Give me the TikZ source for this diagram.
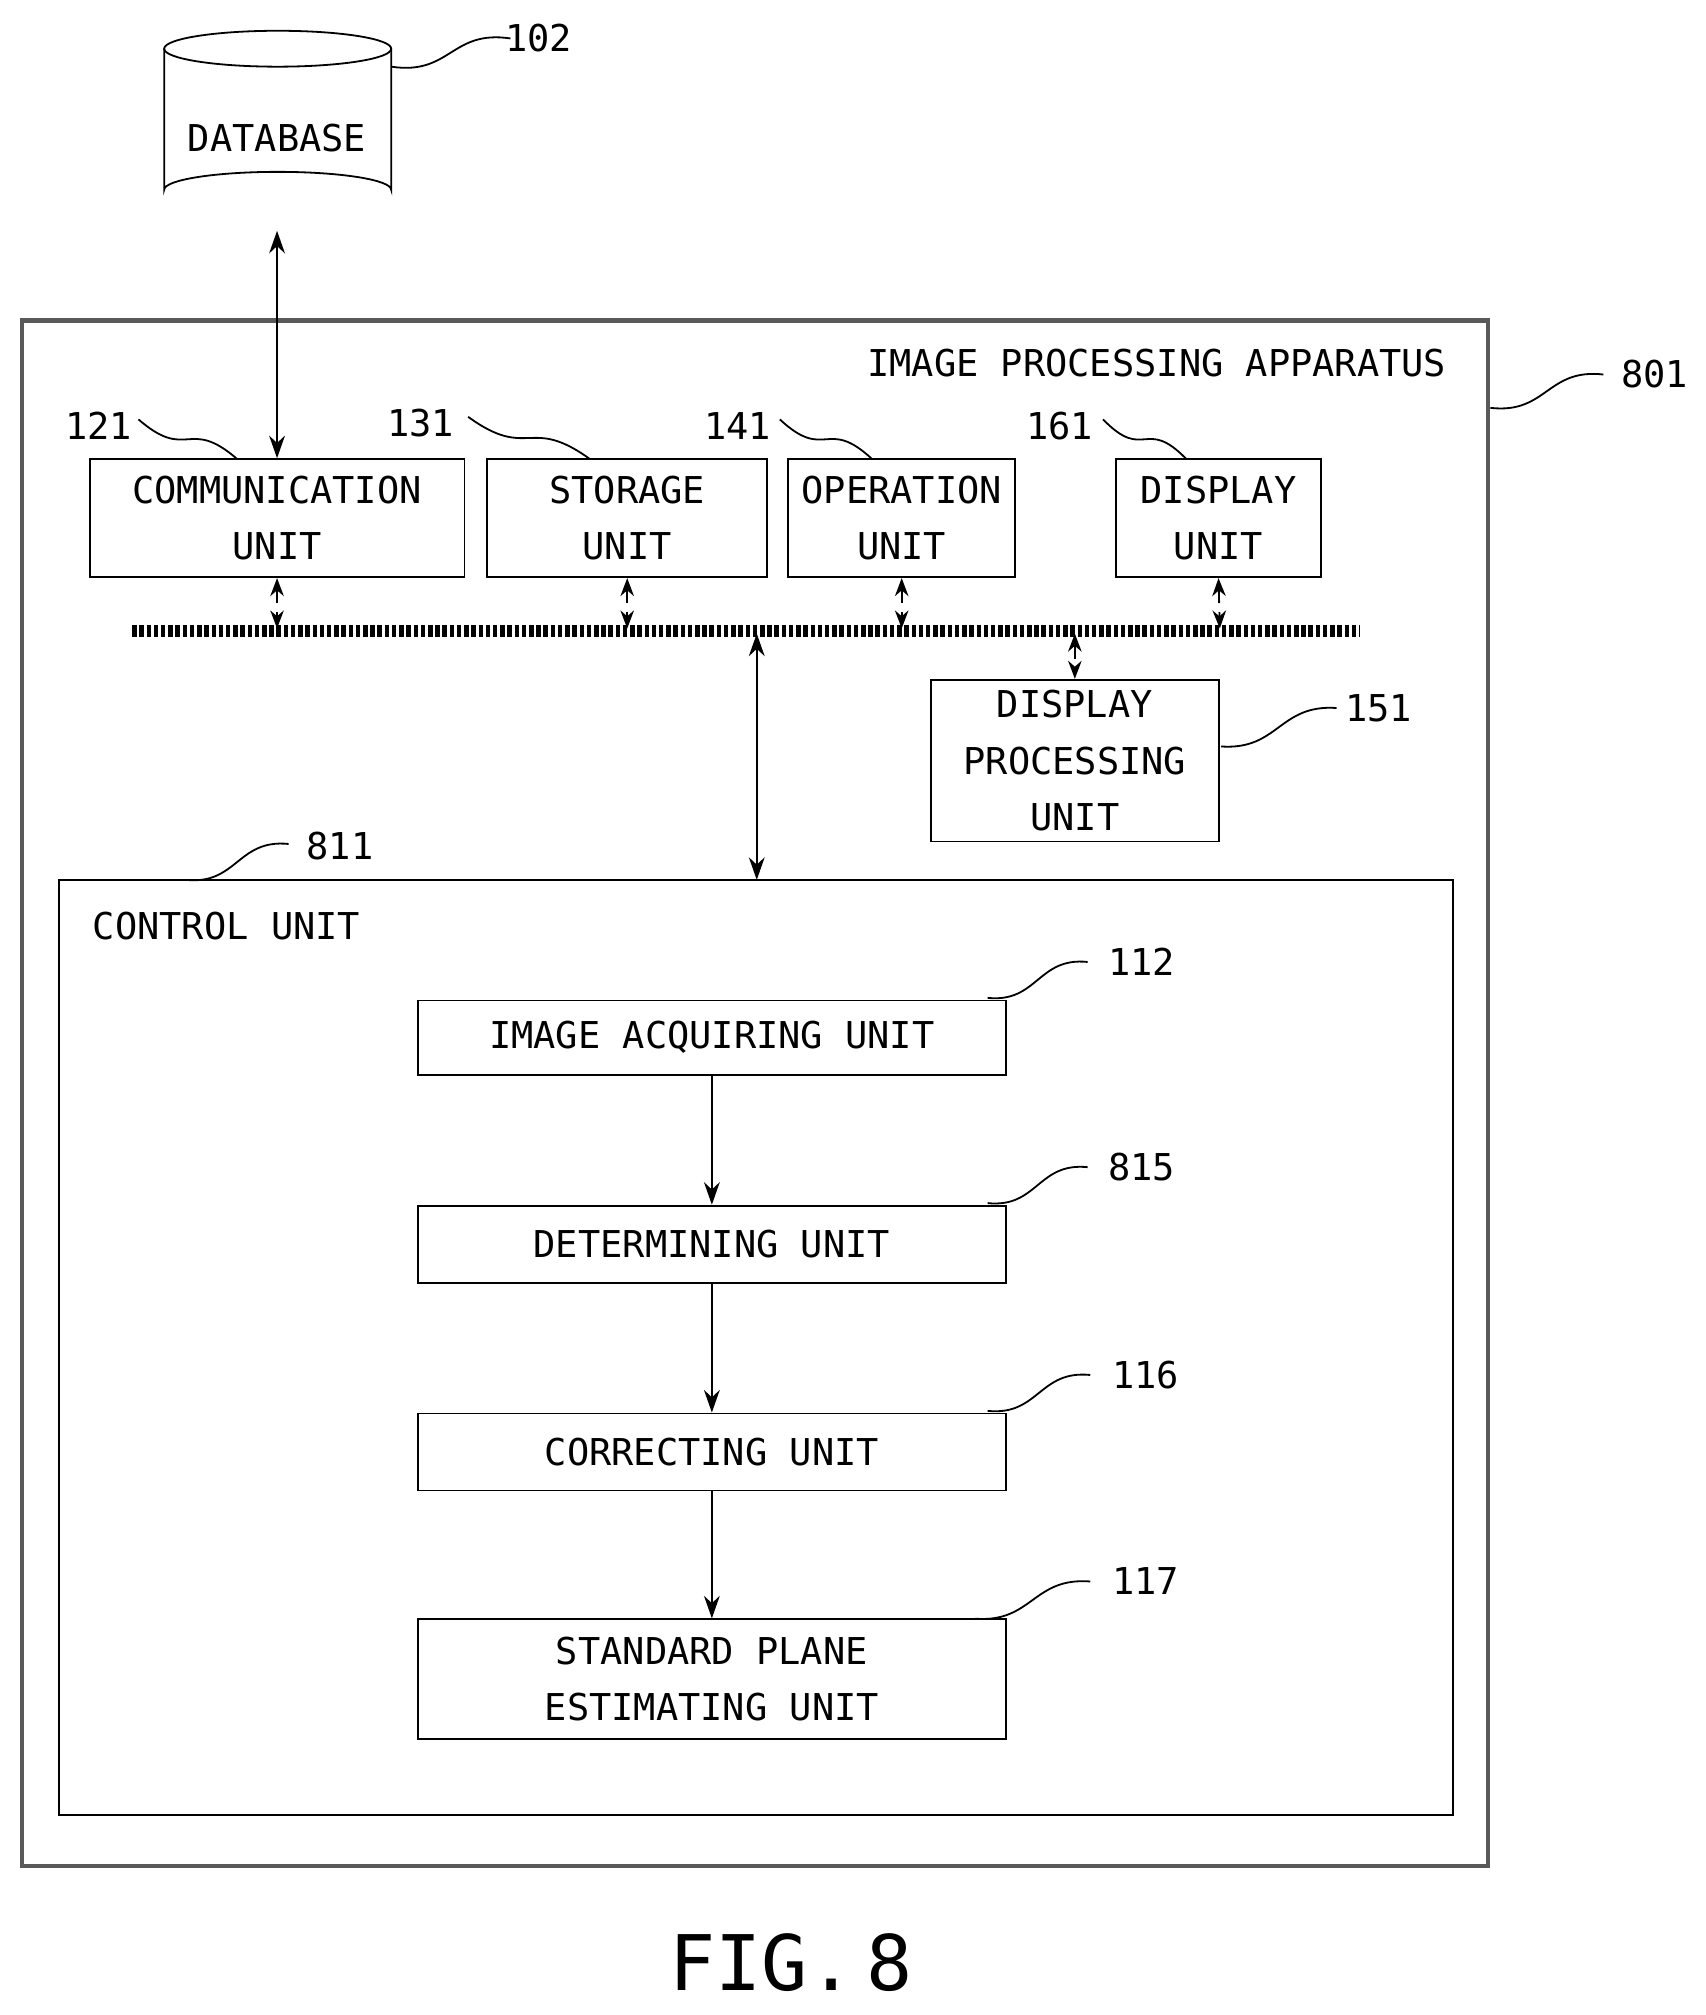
\documentclass[tikz,border=0pt]{standalone}
\usepackage{fontspec}
\setmainfont{DejaVu Sans Mono}
\usetikzlibrary{calc,shapes.geometric,arrows.meta}
\begin{document}
\begin{tikzpicture}[x=0.01cm,y=-0.01cm,
  box/.style={draw,inner sep=0,align=center,font=\fontsize{8.2}{12.5}\selectfont},
  lbl/.style={font=\fontsize{8.2}{11}\selectfont},
  arr/.style={-{Stealth[length=5pt,width=3.5pt]}},
  darr/.style={{Stealth[length=4pt,width=3pt]}-{Stealth[length=4pt,width=3pt]},densely dashed},
  barr/.style={{Stealth[length=5pt,width=3.5pt]}-{Stealth[length=5pt,width=3.5pt]}}]
\useasboundingbox (0,0) rectangle (1330,1571);
\newcommand{\squig}[2]{\draw (#1) .. controls ($(#1)!0.5!(#2)+(0,18)$) and ($(#1)!0.5!(#2)+(0,-18)$) .. (#2);}
% database
\draw (128,38) -- (128,148) arc[start angle=180,end angle=360,x radius=88.5,y radius=14] -- (305,38);
\draw (216.5,38) ellipse[x radius=88.5,y radius=14];
\node[lbl] (db) at (216,108) {DATABASE};
\coordinate (dbb) at (216,180);
\node[lbl] (l102) at (420,30) {102};
\coordinate (s102a) at (305,52); \coordinate (s102b) at (398,30);
\squig{s102a}{s102b}
% outer
\draw[gray!70!black,line width=1pt] (17,250) rectangle (1160,1455);
\node[lbl,anchor=east] (ipa) at (1140,283) {IMAGE PROCESSING APPARATUS};
\node[lbl] (l801) at (1290,292) {801};
\coordinate (s801a) at (1162,318); \coordinate (s801b) at (1250,292);
\squig{s801a}{s801b}
% units
\node[box,minimum width=2.92cm,minimum height=0.92cm] (comm) at (216,404) {COMMUNICATION\\UNIT};
\node[box,minimum width=2.18cm,minimum height=0.92cm] (stor) at (489,404) {STORAGE\\UNIT};
\node[box,minimum width=1.77cm,minimum height=0.92cm] (oper) at (703,404) {OPERATION\\UNIT};
\node[box,minimum width=1.60cm,minimum height=0.92cm] (disp) at (950,404) {DISPLAY\\UNIT};
\node[lbl] (l121) at (77,332) {121}; \coordinate (s121a) at (108,327); \coordinate (s121b) at (185,358); \squig{s121a}{s121b}
\node[lbl] (l131) at (328,330) {131}; \coordinate (s131a) at (365,325); \coordinate (s131b) at (460,358); \squig{s131a}{s131b}
\node[lbl] (l141) at (575,332) {141}; \coordinate (s141a) at (608,327); \coordinate (s141b) at (680,358); \squig{s141a}{s141b}
\node[lbl] (l161) at (826,332) {161}; \coordinate (s161a) at (860,327); \coordinate (s161b) at (925,358); \squig{s161a}{s161b}
% bus
\coordinate (busL) at (103,492); \coordinate (busR) at (1060,492);
\draw[line width=2.5pt,dash pattern=on 1pt off 0.6pt] (busL) -- (busR);
\foreach \n/\x in {comm/216,stor/489,oper/703,disp/951}{
  \coordinate (b\n) at (\x,490);
  \draw[darr] (\n.south) -- (b\n);
}
\draw[barr] (dbb) -- (comm.north);
% display processing
\node[box,minimum width=2.24cm,minimum height=1.26cm] (dpu) at (838,593) {DISPLAY\\PROCESSING\\UNIT};
\coordinate (bdpu) at (838,494);
\draw[darr] (bdpu) -- (dpu.north);
\node[lbl] (l151) at (1075,552) {151}; \coordinate (s151a) at (952,582); \coordinate (s151b) at (1042,552); \squig{s151a}{s151b}
% control unit
\draw (46,686) rectangle (1133,1415);
\coordinate (cut) at (590,686); \coordinate (bcu) at (590,494);
\draw[barr] (bcu) -- (cut);
\node[lbl,anchor=west] (cu) at (60,722) {CONTROL UNIT};
\node[lbl] (l811) at (265,660) {811}; \coordinate (s811a) at (145,686); \coordinate (s811b) at (225,658); \squig{s811a}{s811b}
% inner
\node[box,minimum width=4.58cm,minimum height=0.58cm] (iau) at (555,809) {IMAGE ACQUIRING UNIT};
\node[box,minimum width=4.58cm,minimum height=0.60cm] (det) at (555,970) {DETERMINING UNIT};
\node[box,minimum width=4.58cm,minimum height=0.60cm] (cor) at (555,1132) {CORRECTING UNIT};
\node[box,minimum width=4.58cm,minimum height=0.93cm] (spe) at (555,1309) {STANDARD PLANE\\ESTIMATING UNIT};
\draw[arr] (iau) -- (det); \draw[arr] (det) -- (cor); \draw[arr] (cor) -- (spe);
\node[lbl] (l112) at (890,750) {112}; \coordinate (s112a) at (770,778); \coordinate (s112b) at (848,750); \squig{s112a}{s112b}
\node[lbl] (l815) at (890,910) {815}; \coordinate (s815a) at (770,938); \coordinate (s815b) at (848,910); \squig{s815a}{s815b}
\node[lbl] (l116) at (893,1072) {116}; \coordinate (s116a) at (770,1100); \coordinate (s116b) at (850,1072); \squig{s116a}{s116b}
\node[lbl] (l117) at (893,1233) {117}; \coordinate (s117a) at (760,1262); \coordinate (s117b) at (850,1233); \squig{s117a}{s117b}
\node[font=\fontsize{17}{20}\selectfont] (fig) at (617,1530) {FIG.\,8};
\end{tikzpicture}
\end{document}
